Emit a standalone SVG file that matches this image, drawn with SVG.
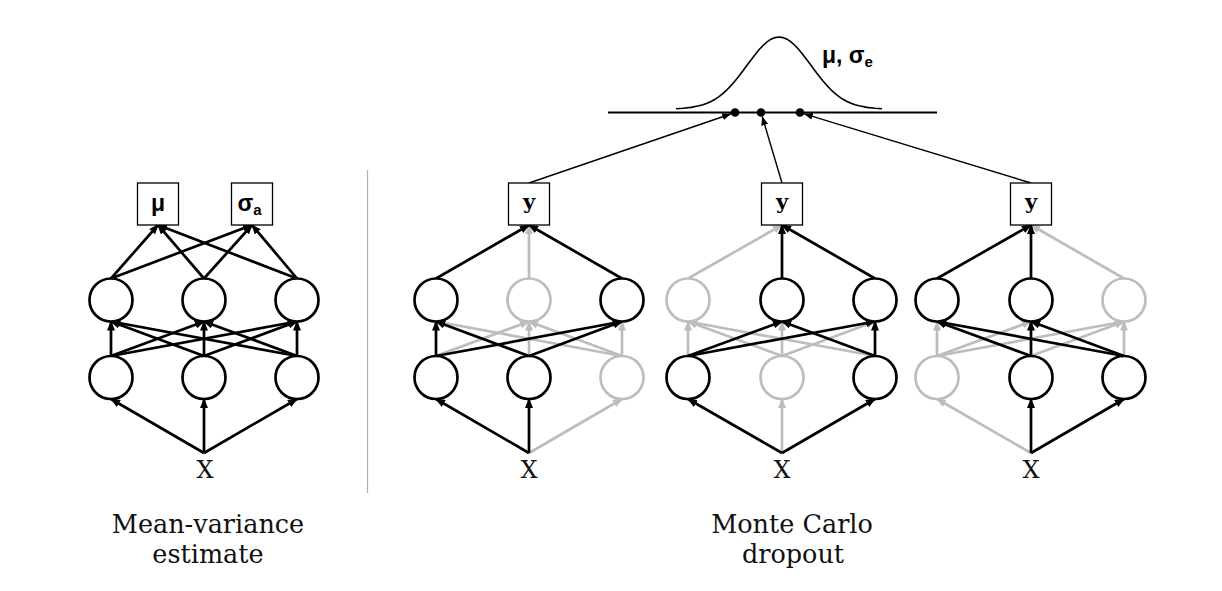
<svg xmlns="http://www.w3.org/2000/svg" width="1222" height="591" viewBox="0 0 1222 591">
<style>
.e{stroke:#000;stroke-width:2.7;fill:none;marker-end:url(#ah)}
.g{stroke:#bdbdbd;stroke-width:2.7;fill:none;marker-end:url(#ag)}
.t{stroke:#000;stroke-width:1.4;fill:none;marker-end:url(#at)}
.n{fill:#fff;stroke:#000;stroke-width:2.7}
.ng{fill:#fff;stroke:#bdbdbd;stroke-width:2.7}
.b{fill:#fff;stroke:#000;stroke-width:1.3}
.lab{font-family:"DejaVu Serif",serif;font-size:25.5px;fill:#111;text-anchor:middle}
.x{font-family:"DejaVu Serif",serif;font-size:24px;fill:#111;text-anchor:middle}
.y{font-family:"DejaVu Serif",serif;font-weight:bold;font-size:21px;fill:#000;text-anchor:middle}
.gr{font-family:"Liberation Sans",Arial,sans-serif;font-weight:bold;font-size:23px;fill:#000}
.sub{font-size:15px}
</style>
<defs>
<marker id="ah" markerUnits="userSpaceOnUse" markerWidth="10" markerHeight="8" viewBox="0 0 10 8" refX="9" refY="4" orient="auto"><path d="M0,0 L10,4 L0,8 z" fill="#000"/></marker>
<marker id="ag" markerUnits="userSpaceOnUse" markerWidth="10" markerHeight="8" viewBox="0 0 10 8" refX="9" refY="4" orient="auto"><path d="M0,0 L10,4 L0,8 z" fill="#bdbdbd"/></marker>
<marker id="at" markerUnits="userSpaceOnUse" markerWidth="9" markerHeight="7" viewBox="0 0 9 7" refX="8.5" refY="3.5" orient="auto"><path d="M0,0 L9,3.5 L0,7 z" fill="#000"/></marker>
</defs>
<rect width="1222" height="591" fill="#fff"/>
<line x1="367.5" y1="170" x2="367.5" y2="493" stroke="#b0b0b0" stroke-width="1.2"/>
<g id="gaussian">
<line x1="608" y1="112.5" x2="937" y2="112.5" stroke="#000" stroke-width="2"/>
<path d="M676,108.7 L683,108.3 L691,107.4 L699,105.8 L703,104.7 L707,103.3 L711,101.5 L715,99.3 L719,96.6 L723,93.4 L727,89.8 L731,85.6 L735,81 L739,76 L743,70.8 L747,65.3 L751,59.9 L755,54.7 L759,49.8 L763,45.5 L767,41.9 L771,39.2 L775,37.6 L779,37 L783,37.6 L787,39.2 L791,41.9 L795,45.5 L799,49.8 L803,54.7 L807,59.9 L811,65.3 L815,70.8 L819,76 L823,81 L827,85.6 L831,89.8 L835,93.4 L839,96.6 L843,99.3 L847,101.5 L851,103.3 L855,104.7 L859,105.8 L867,107.4 L875,108.3 L882,108.7" fill="none" stroke="#000" stroke-width="1.6" stroke-linejoin="round"/>
<circle cx="735" cy="112.5" r="4.3" fill="#000"/>
<circle cx="761" cy="112.5" r="4.3" fill="#000"/>
<circle cx="800" cy="112.5" r="4.3" fill="#000"/>
<text class="gr" x="822" y="63">μ, σ<tspan class="sub" dy="4">e</tspan></text>
</g>
<g id="connectors">
<path class="g" d="M529,453 L622,399"/>
<path class="g" d="M436,356 L529,321.5"/>
<path class="g" d="M529,356 L529,321.5"/>
<path class="g" d="M622,356 L436,321.5"/>
<path class="g" d="M622,356 L529,321.5"/>
<path class="g" d="M622,356 L622,321.5"/>
<path class="g" d="M529,278.5 L529,225"/>
<path class="g" d="M782,453 L782,399"/>
<path class="g" d="M688,356 L688,321.5"/>
<path class="g" d="M782,356 L688,321.5"/>
<path class="g" d="M782,356 L782,321.5"/>
<path class="g" d="M782,356 L875,321.5"/>
<path class="g" d="M875,356 L688,321.5"/>
<path class="g" d="M688,278.5 L782,225"/>
<path class="g" d="M1031,453 L937,399"/>
<path class="g" d="M937,356 L937,321.5"/>
<path class="g" d="M937,356 L1031,321.5"/>
<path class="g" d="M937,356 L1124,321.5"/>
<path class="g" d="M1031,356 L1124,321.5"/>
<path class="g" d="M1124,356 L1124,321.5"/>
<path class="g" d="M1124,278.5 L1031,225"/>
<path class="e" d="M204,453 L111,399"/>
<path class="e" d="M204,453 L204,399"/>
<path class="e" d="M204,453 L297,399"/>
<path class="e" d="M111,356 L111,321.5"/>
<path class="e" d="M111,356 L204,321.5"/>
<path class="e" d="M111,356 L297,321.5"/>
<path class="e" d="M204,356 L111,321.5"/>
<path class="e" d="M204,356 L204,321.5"/>
<path class="e" d="M204,356 L297,321.5"/>
<path class="e" d="M297,356 L111,321.5"/>
<path class="e" d="M297,356 L204,321.5"/>
<path class="e" d="M297,356 L297,321.5"/>
<path class="e" d="M111,278.5 L158,225"/>
<path class="e" d="M204,278.5 L158,225"/>
<path class="e" d="M297,278.5 L158,225"/>
<path class="e" d="M111,278.5 L252,225"/>
<path class="e" d="M204,278.5 L252,225"/>
<path class="e" d="M297,278.5 L252,225"/>
<path class="e" d="M529,453 L436,399"/>
<path class="e" d="M529,453 L529,399"/>
<path class="e" d="M436,356 L436,321.5"/>
<path class="e" d="M436,356 L622,321.5"/>
<path class="e" d="M529,356 L436,321.5"/>
<path class="e" d="M529,356 L622,321.5"/>
<path class="e" d="M436,278.5 L529,225"/>
<path class="e" d="M622,278.5 L529,225"/>
<path class="e" d="M782,453 L688,399"/>
<path class="e" d="M782,453 L875,399"/>
<path class="e" d="M688,356 L782,321.5"/>
<path class="e" d="M688,356 L875,321.5"/>
<path class="e" d="M875,356 L782,321.5"/>
<path class="e" d="M875,356 L875,321.5"/>
<path class="e" d="M782,278.5 L782,225"/>
<path class="e" d="M875,278.5 L782,225"/>
<path class="e" d="M1031,453 L1031,399"/>
<path class="e" d="M1031,453 L1124,399"/>
<path class="e" d="M1031,356 L937,321.5"/>
<path class="e" d="M1031,356 L1031,321.5"/>
<path class="e" d="M1124,356 L937,321.5"/>
<path class="e" d="M1124,356 L1031,321.5"/>
<path class="e" d="M937,278.5 L1031,225"/>
<path class="e" d="M1031,278.5 L1031,225"/>
<path class="t" d="M529,183 L730.7,114"/>
<path class="t" d="M782,183 L762.3,116.8"/>
<path class="t" d="M1031,183 L804.3,113.8"/>
</g>
<g id="mv-net">
<circle class="n" cx="111" cy="377.5" r="21.5"/>
<circle class="n" cx="204" cy="377.5" r="21.5"/>
<circle class="n" cx="297" cy="377.5" r="21.5"/>
<circle class="n" cx="111" cy="300" r="21.5"/>
<circle class="n" cx="204" cy="300" r="21.5"/>
<circle class="n" cx="297" cy="300" r="21.5"/>
<rect class="b" x="137.5" y="183" width="41" height="42"/>
<text class="gr" x="158" y="211" text-anchor="middle">μ</text>
<rect class="b" x="231.5" y="183" width="41" height="42"/>
<text class="gr" x="249.5" y="211" text-anchor="middle">σ<tspan class="sub" dy="4">a</tspan></text>
<text class="x" x="205" y="478">X</text>
</g>
<g id="mc-net1">
<circle class="n" cx="436" cy="377.5" r="21.5"/>
<circle class="n" cx="529" cy="377.5" r="21.5"/>
<circle class="ng" cx="622" cy="377.5" r="21.5"/>
<circle class="n" cx="436" cy="300" r="21.5"/>
<circle class="ng" cx="529" cy="300" r="21.5"/>
<circle class="n" cx="622" cy="300" r="21.5"/>
<rect class="b" x="508.5" y="183" width="41" height="42"/>
<text class="y" x="529" y="209">y</text>
<text class="x" x="529" y="478">X</text>
</g>
<g id="mc-net2">
<circle class="n" cx="688" cy="377.5" r="21.5"/>
<circle class="ng" cx="782" cy="377.5" r="21.5"/>
<circle class="n" cx="875" cy="377.5" r="21.5"/>
<circle class="ng" cx="688" cy="300" r="21.5"/>
<circle class="n" cx="782" cy="300" r="21.5"/>
<circle class="n" cx="875" cy="300" r="21.5"/>
<rect class="b" x="761.5" y="183" width="41" height="42"/>
<text class="y" x="782" y="209">y</text>
<text class="x" x="782" y="478">X</text>
</g>
<g id="mc-net3">
<circle class="ng" cx="937" cy="377.5" r="21.5"/>
<circle class="n" cx="1031" cy="377.5" r="21.5"/>
<circle class="n" cx="1124" cy="377.5" r="21.5"/>
<circle class="n" cx="937" cy="300" r="21.5"/>
<circle class="n" cx="1031" cy="300" r="21.5"/>
<circle class="ng" cx="1124" cy="300" r="21.5"/>
<rect class="b" x="1010.5" y="183" width="41" height="42"/>
<text class="y" x="1031" y="209">y</text>
<text class="x" x="1031" y="478">X</text>
</g>
<g id="labels">
<text class="lab" x="208" y="533">Mean-variance</text>
<text class="lab" x="208" y="563">estimate</text>
<text class="lab" x="792" y="533">Monte Carlo</text>
<text class="lab" x="793" y="563">dropout</text>
</g>
</svg>
